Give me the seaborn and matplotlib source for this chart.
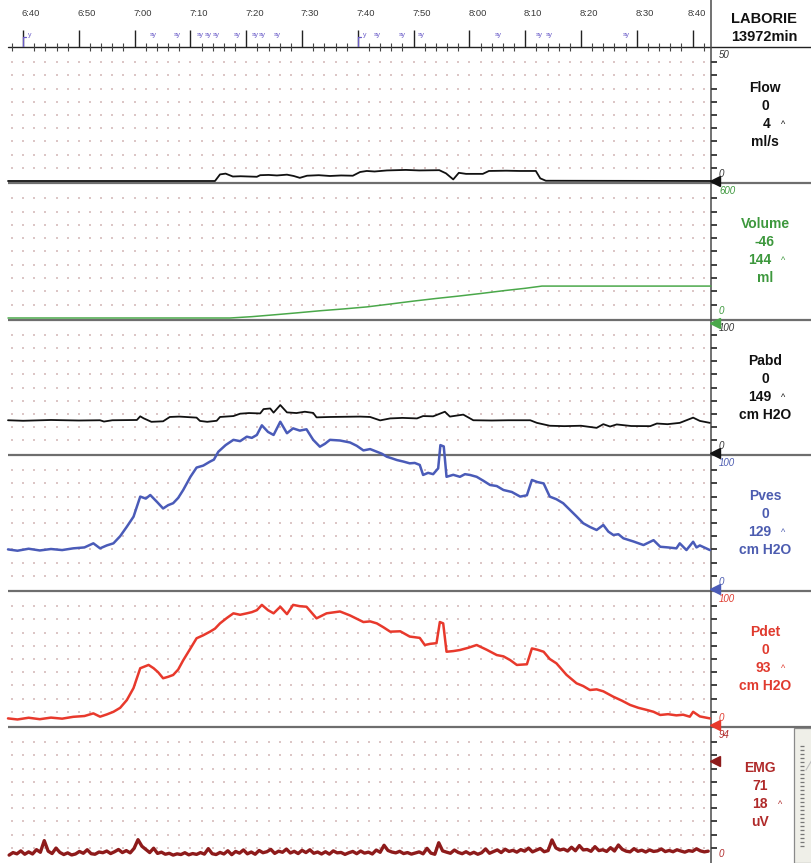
import numpy as np
import matplotlib
matplotlib.use("Agg")
import matplotlib.pyplot as plt
import matplotlib.transforms as mtransforms
from matplotlib.patches import Rectangle
import seaborn as sns

# ---------------------------------------------------------------- data
# time in seconds (6:40 = 400 s)
flow_t = [397.3, 434.4, 435.3, 436.3, 437.6, 439.0, 441.9, 442.5, 444.0, 445.5,
          447.3, 448.5, 449.6, 450.9, 453.0, 455.0, 457.0, 459.1, 460.4, 461.6,
          463.0, 465.2, 468.6, 471.0, 474.6, 475.8, 477.1, 478.1, 479.4, 482.4,
          483.5, 486.6, 489.0, 491.9, 492.7, 493.7, 523.3]
flow_v = [0.0, 0.0, 2.5, 2.8, 1.7, 1.8, 1.6, 2.2, 2.3, 2.1,
          2.4, 1.9, 1.2, 2.0, 2.2, 1.9, 2.1, 2.0, 3.4, 3.8,
          3.6, 4.0, 4.2, 4.0, 4.1, 2.9, 0.6, 3.1, 2.7, 2.7,
          3.8, 3.9, 3.8, 3.8, 1.0, 0.1, 0.0]

vol_t = [397.3, 437.1, 441.0, 445.3, 449.0, 453.4, 457.5, 461.6, 465.8,
         469.9, 474.0, 478.1, 482.2, 486.4, 490.0, 493.0, 523.3]
vol_v = [0, 0, 6, 15, 23, 33, 41, 50, 63, 76, 88, 99, 111, 124, 134, 144, 144]

pabd_t = [397.3, 400.0, 405.0, 410.0, 413.8, 414.5, 416.0, 420.4, 421.0, 421.6,
          423.0, 425.1, 426.3, 428.0, 431.1, 431.7, 433.0, 434.7, 435.3, 437.7,
          438.9, 440.5, 442.5, 443.1, 444.3, 444.9, 446.1, 447.3, 449.0, 450.5,
          452.0, 452.6, 455.0, 458.6, 460.4, 462.2, 464.0, 465.8, 468.0, 470.6,
          471.7, 473.5, 475.6, 476.5, 478.9, 480.7, 484.0, 487.0, 490.9, 492.1,
          494.4, 497.0, 500.0, 502.8, 504.0, 505.2, 506.4, 509.0, 512.4, 513.6,
          515.5, 517.7, 520.1, 521.3, 523.1]
pabd_v = [25.0, 24.6, 25.2, 24.8, 25.0, 24.0, 25.0, 25.2, 28.0, 26.5,
          23.8, 24.2, 27.5, 27.8, 27.0, 24.5, 23.8, 24.6, 27.5, 28.2,
          30.0, 30.5, 30.2, 33.5, 34.0, 30.8, 36.6, 31.0, 30.5, 31.5,
          30.6, 27.2, 27.5, 27.7, 27.8, 27.5, 24.9, 26.4, 26.8, 26.4,
          28.2, 28.0, 31.5, 27.8, 29.3, 25.0, 24.8, 25.0, 25.0, 23.0,
          20.8, 20.5, 20.8, 19.2, 22.0, 20.2, 21.8, 20.6, 20.5, 22.5,
          22.0, 23.0, 27.0, 24.5, 23.0]

pves_t = [397.3, 399.0, 401.0, 403.0, 405.0, 407.0, 409.0, 411.0, 412.6, 413.8,
          415.0, 416.2, 417.4, 418.6, 419.8, 421.0, 422.0, 422.8, 424.0, 425.1,
          426.0, 426.9, 427.8, 428.7, 430.0, 431.1, 432.3, 433.5, 434.2, 435.0,
          436.3, 437.7, 438.9, 440.1, 441.0, 441.9, 442.8, 443.9, 444.9, 446.1,
          447.3, 448.4, 449.6, 450.8, 452.0, 453.2, 454.1, 455.0, 456.8, 458.6,
          459.8, 461.0, 462.2, 463.4, 464.3, 465.2, 466.1, 467.0, 468.2, 469.3,
          470.2, 471.1, 471.7, 472.6, 473.5, 474.4, 474.8, 475.4, 475.9, 477.1,
          478.3, 479.2, 480.1, 481.3, 482.5, 483.7, 484.9, 486.1, 487.6, 489.1,
          490.3, 491.2, 492.2, 493.3, 494.4, 495.6, 496.8, 498.0, 499.2, 500.4,
          501.6, 502.8, 504.0, 504.9, 505.8, 506.7, 507.6, 509.4, 511.2, 513.0,
          514.2, 515.6, 517.1, 517.7, 518.9, 520.1, 520.7, 521.3, 523.1]
pves_v = [30.0, 29.0, 30.5, 29.2, 30.3, 29.5, 30.8, 31.5, 34.6, 30.8,
          33.0, 34.6, 40.0, 47.2, 54.8, 70.0, 68.5, 71.2, 66.0, 61.0,
          63.5, 65.0, 69.0, 75.0, 85.0, 92.0, 93.5, 96.5, 98.0, 104.0,
          109.0, 113.0, 112.0, 115.4, 114.5, 116.7, 124.0, 119.0, 116.7, 126.7,
          118.0, 121.7, 120.0, 121.0, 113.0, 107.8, 110.0, 113.0, 112.5, 111.0,
          108.5, 105.0, 106.0, 104.0, 102.5, 100.2, 99.0, 97.7, 96.5, 95.2,
          95.5, 94.0, 86.4, 88.0, 87.0, 91.4, 109.0, 108.0, 85.0, 86.5,
          85.0, 87.0, 86.4, 85.0, 82.0, 78.8, 78.0, 75.0, 73.5, 70.0,
          71.0, 82.6, 81.0, 80.0, 70.0, 68.0, 65.0, 60.0, 55.0, 49.8,
          47.0, 44.7, 48.5, 43.5, 40.9, 41.5, 38.4, 36.0, 33.3, 37.0,
          32.0, 31.5, 30.8, 34.6, 29.5, 35.8, 31.5, 33.0, 29.5]

pdet_t = [397.3, 399.0, 401.0, 403.0, 405.0, 407.0, 409.0, 411.0, 412.6, 413.8,
          415.0, 416.2, 417.4, 418.6, 419.8, 421.0, 422.5, 423.4, 424.2, 425.1,
          426.0, 426.9, 427.8, 428.7, 430.0, 431.1, 432.3, 433.5, 434.4, 435.3,
          436.5, 437.7, 438.9, 440.1, 441.0, 441.9, 442.8, 443.9, 444.9, 446.1,
          447.3, 448.4, 449.6, 450.8, 452.6, 454.4, 456.8, 458.6, 459.8, 461.0,
          462.2, 463.4, 464.6, 465.8, 467.6, 469.3, 471.1, 472.0, 473.0, 474.1,
          474.7, 475.3, 475.9, 477.1, 478.3, 479.8, 481.3, 483.1, 484.9, 486.1,
          487.3, 488.5, 490.3, 491.2, 492.2, 493.3, 494.4, 495.6, 497.4, 499.2,
          500.4, 501.6, 502.8, 504.0, 505.8, 507.3, 508.8, 510.3, 511.8, 513.0,
          514.2, 515.6, 517.1, 518.3, 519.5, 520.1, 521.3, 523.1]
pdet_v = [5.0, 4.2, 5.5, 4.4, 5.6, 4.8, 6.2, 6.8, 8.8, 6.3,
          8.0, 10.0, 13.0, 18.9, 28.0, 43.0, 45.5, 43.0, 40.0, 35.4,
          36.5, 37.9, 42.0, 49.0, 58.0, 65.7, 68.0, 70.7, 73.0, 77.0,
          81.0, 84.6, 83.5, 84.6, 85.5, 87.0, 91.0, 87.0, 84.6, 89.6,
          84.0, 91.0, 90.0, 89.6, 80.8, 84.6, 86.0, 83.0, 80.5, 78.0,
          78.5, 77.0, 74.0, 70.7, 71.0, 67.0, 66.0, 60.6, 61.5, 62.0,
          78.0, 77.0, 55.5, 56.0, 56.8, 58.5, 60.6, 57.0, 53.0, 52.0,
          49.2, 45.5, 46.0, 58.0, 57.0, 55.5, 50.0, 46.7, 38.0, 31.6,
          29.5, 26.5, 27.0, 25.5, 21.4, 18.5, 15.2, 13.0, 11.4, 10.0,
          7.6, 8.2, 7.3, 7.8, 6.3, 10.0, 6.5, 5.0]

# EMG envelope sampled every 0.7 s from 397.5 s
emg_start, emg_step = 397.5, 0.7
emg_v = [4.2, 6.0, 5.1, 7.2, 4.8, 6.5, 5.0, 8.1, 6.2, 14.5,
         7.0, 5.3, 9.2, 6.1, 4.6, 5.8, 4.3, 5.0, 6.8, 5.5,
         8.0, 5.2, 4.8, 6.4, 5.9, 7.1, 5.3, 6.6, 8.2, 6.0,
         7.4, 5.8, 9.0, 15.2, 10.5, 8.3, 6.0, 9.1, 5.4, 6.3,
         4.8, 5.5, 4.2, 5.1, 4.6, 5.9, 4.4, 5.3, 4.7, 6.0,
         4.9, 8.8, 5.2, 4.6, 6.1, 5.0, 7.3, 4.5, 6.8, 5.6,
         7.9, 5.1, 6.4, 4.8, 7.5, 5.9, 6.6, 8.3, 5.4, 7.0,
         6.2, 8.5, 5.7, 6.9, 5.3, 7.6, 6.0, 8.0, 5.5, 6.4,
         5.0, 6.6, 4.9, 7.2, 5.8, 6.1, 4.7, 5.9, 6.8, 5.2,
         7.1, 5.6, 6.3, 5.0, 7.8, 6.2, 11.2, 7.5, 6.4, 5.8,
         6.9, 5.3, 6.0, 4.9, 5.7, 6.5, 5.1, 9.0, 5.6, 4.8,
         13.0, 7.2, 6.3, 5.5, 7.8, 6.1, 5.2, 6.6, 5.0, 6.2,
         4.8, 5.9, 8.6, 5.5, 6.7, 7.9, 6.0, 8.4, 6.8, 7.6,
         6.3, 8.1, 7.0, 9.2, 6.5, 7.7, 8.9, 6.6, 7.4, 15.0,
         9.3, 7.8, 8.5, 7.1, 9.8, 7.3, 11.0, 7.9, 8.2, 6.9,
         10.2, 7.4, 8.0, 6.8, 9.5, 7.1, 11.4, 8.3, 7.0, 6.5,
         8.8, 6.9, 7.7, 6.4, 7.9, 6.8, 7.2, 8.6, 6.7, 7.5,
         6.6, 8.0, 7.1, 6.3, 7.4, 6.9, 8.7, 7.2, 6.5, 7.0]
emg_t = emg_start + emg_step * np.arange(len(emg_v))

# channel read-outs
chan_names = ["Flow", "Volume", "Pabd", "Pves", "Pdet", "EMG"]
chan_now = ["0", "-46", "0", "0", "0", "71"]
chan_max = ["4", "144", "149", "129", "93", "18"]
chan_units = ["ml/s", "ml", "cm H2O", "cm H2O", "cm H2O", "uV"]
chan_top = [50, 600, 100, 100, 100, 94]
chan_marker = [0, 0, 0, 0, 0, 71]

time_ticks = list(range(400, 521, 10))
time_labels = ["6:40", "6:50", "7:00", "7:10", "7:20", "7:30", "7:40",
               "7:50", "8:00", "8:10", "8:20", "8:30", "8:40"]
event_times = [423.3, 427.6, 431.7, 433.2, 434.6, 438.4, 441.6, 442.8, 445.5,
               463.4, 467.9, 471.3, 485.1, 492.5, 494.3, 508.1]

# ---------------------------------------------------------------- style
sns.set_style("white")
plt.rcParams["font.family"] = ["Liberation Sans", "DejaVu Sans"]

C_BLACK = "#111111"
C_GREEN = "#4aa84a"
C_GREEN_TXT = "#3d983d"
C_BLUE = "#4a5bb8"
C_BLUE_TXT = "#4c5cb0"
C_RED = "#e8392c"
C_RED_TXT = "#e03a2e"
C_EMG = "#8e1b1b"
C_EMG_TXT = "#b02a2a"
C_DOT = "#dcc6c6"
C_DIV = "#6e6e6e"

trace_colors = [C_BLACK, C_GREEN, C_BLACK, C_BLUE, C_RED, C_EMG]
text_colors = [C_BLACK, C_GREEN_TXT, C_BLACK, C_BLUE_TXT, C_RED_TXT, C_EMG_TXT]
trace_widths = [1.3, 1.1, 1.3, 1.8, 1.8, 2.4]

W, H = 812, 863
fig = plt.figure(figsize=(W / 100, H / 100), dpi=100)

X0, X1 = 8, 711
T0, T1 = 397.3, 523.3
edges = [47, 183, 320, 455, 591, 727, 863]


def px_axes(x0, y0, x1, y1):
    return fig.add_axes([x0 / W, 1 - y1 / H, (x1 - x0) / W, (y1 - y0) / H])


# pixel canvas for frame lines and read-out text
bg = fig.add_axes([0, 0, 1, 1])
bg.set_xlim(0, W)
bg.set_ylim(H, 0)
bg.axis("off")

for y in edges[1:-1]:
    bg.plot([X0, W], [y, y], color=C_DIV, lw=1.6, solid_capstyle="butt")
bg.plot([X0, W], [edges[0], edges[0]], color="#222222", lw=1.0)
bg.plot([X1, X1], [0, H], color="#4a4a4a", lw=1.1)

# EMG side strip
bg.add_patch(Rectangle((794, 728), 18, 135, facecolor="#efefe8",
                       edgecolor="#8a8a8a", lw=0.9))
strip_y = np.arange(746, 850, 4)
bg.plot(np.full(len(strip_y), 802.5), strip_y, ls="none", marker="_",
        ms=3, color="#777777", mew=0.9)
bg.plot([806, 812], [770, 760], color="#bdbdbd", lw=0.8)

bg.text(764, 19, "LABORIE", fontsize=10.5, fontweight="bold", ha="center",
        va="center", color=C_BLACK)
bg.text(764, 37, "13972min", fontsize=10.5, fontweight="bold", ha="center",
        va="center", color=C_BLACK)

# ---------------------------------------------------------------- time ruler
ruler = px_axes(X0, 0, X1, edges[0])
ruler.set_facecolor("none")
ruler.set_xlim(T0, T1)
ruler.set_ylim(0, 1)
for s in ruler.spines.values():
    s.set_visible(False)
ruler.set_xticks(time_ticks)
ruler.set_xticks(np.arange(398, 523, 2), minor=True)
ruler.tick_params(axis="x", which="both", bottom=True, top=False)
ruler.tick_params(axis="x", which="major", direction="in", length=12,
                  width=1.0, color="#222222", labelbottom=False)
ruler.tick_params(axis="x", which="minor", direction="inout", length=6,
                  width=0.8, color="#444444")
ruler.set_yticks([])
xt = ruler.get_xaxis_transform()
for i, (t, lab) in enumerate(zip(time_ticks, time_labels)):
    shift = -0.9 if i == len(time_ticks) - 1 else -0.2
    ruler.text(t + shift, 0.72, lab, transform=xt, fontsize=6.8,
               color="#3a3a3a", ha="left", va="center")
for t in event_times:
    ruler.text(t, 0.24, "\u02e2\u02b8", transform=xt, fontsize=7.5,
               color="#6a5cc8", ha="center", va="center")
for t in (400, 460):
    ruler.plot([t, t + 0.6], [0.22, 0.22], color="#6a5cc8", lw=0.9,
               transform=xt)
    ruler.plot([t, t], [0.0, 0.22], color="#6a5cc8", lw=0.9, transform=xt)
    ruler.text(t + 1.0, 0.24, "\u02b8", transform=xt, fontsize=7.5,
               color="#6a5cc8", ha="center", va="center")

# ---------------------------------------------------------------- channels
series = [(flow_t, flow_v), (vol_t, vol_v), (pabd_t, pabd_v),
          (pves_t, pves_v), (pdet_t, pdet_v), (emg_t, emg_v)]

for k in range(6):
    y_top, y_bot = edges[k], edges[k + 1]
    h = y_bot - y_top
    top = chan_top[k]
    pad = 2 * top / (h - 4)
    ax = px_axes(X0, y_top, X1, y_bot)
    ax.set_facecolor("none")
    ax.set_xlim(T0, T1)
    ax.set_ylim(-pad, top + pad)
    for s in ax.spines.values():
        s.set_visible(False)
    ax.set_xticks([])
    ax.yaxis.tick_right()
    ax.set_yticks(np.linspace(0, top, 11)[1:-1])
    ax.tick_params(axis="y", direction="out", length=4, width=1.3,
                   color="#333333", labelright=False, pad=0)

    # dotted grid
    gx, gy = np.meshgrid(np.arange(398, 523, 2), np.linspace(0, top, 11)[1:-1])
    ax.scatter(gx.ravel(), gy.ravel(), s=1.6, marker="s", color=C_DOT,
               linewidths=0, zorder=1)

    t, v = series[k]
    sns.lineplot(x=np.asarray(t, float), y=np.asarray(v, float), ax=ax,
                 color=trace_colors[k], linewidth=trace_widths[k],
                 estimator=None, sort=False, zorder=3)
    ax.lines[-1].set_clip_on(False)
    ax.set_xlabel("")
    ax.set_ylabel("")

    # zero / level pointer on the scale line
    dy = -5 if k == 1 else 0
    tr = mtransforms.offset_copy(ax.transData, fig=fig, x=4, y=dy, units="dots")
    ax.plot([T1], [chan_marker[k]], marker="<", ms=6.5, color=trace_colors[k],
            transform=tr, clip_on=False, zorder=5)

    # scale limits
    sc_col = "#333333" if k in (0, 2) else text_colors[k]
    bg.text(719, y_top + 8, str(top), fontsize=7, fontstyle="italic",
            color=sc_col, ha="left", va="center")
    bg.text(719, y_bot - 9, "0", fontsize=7, fontstyle="italic",
            color=sc_col, ha="left", va="center")

    # read-out block
    cx = 760 if k == 5 else 765
    col = text_colors[k]
    fs = 10
    bg.text(cx, y_top + 41, chan_names[k], fontsize=fs, fontweight="bold",
            color=col, ha="center", va="center")
    bg.text(cx, y_top + 59, chan_now[k], fontsize=fs, fontweight="bold",
            color=col, ha="center", va="center")
    bg.text(771 if k < 5 else 768, y_top + 77, chan_max[k], fontsize=fs,
            fontweight="bold", color=col, ha="right", va="center")
    bg.text(783 if k < 5 else 780, y_top + 77, "^", fontsize=6.5,
            color=col, ha="center", va="center")
    bg.text(cx, y_top + 95, chan_units[k], fontsize=fs, fontweight="bold",
            color=col, ha="center", va="center")

fig.savefig("out.png", dpi=100)
